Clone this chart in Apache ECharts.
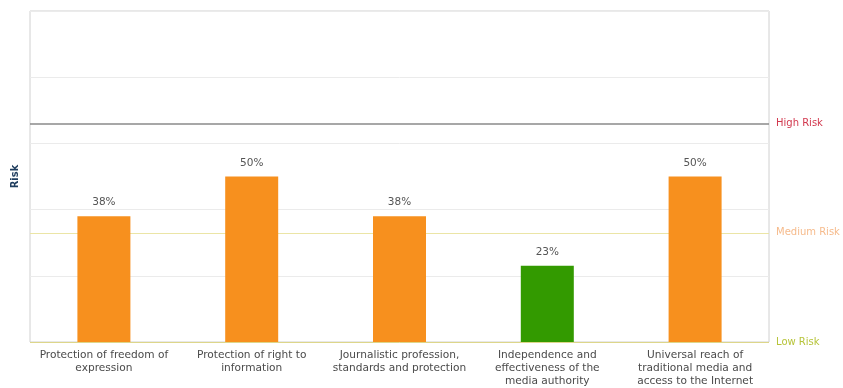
<!DOCTYPE html>
<html>
<head>
<meta charset="utf-8">
<style>
  html, body { margin: 0; padding: 0; background: #ffffff; }
  #chart { width: 843px; height: 388px; }
</style>
<script src="https://cdn.jsdelivr.net/npm/echarts@6/dist/echarts.min.js"></script>
</head>
<body>
<div id="chart"></div>
<script>
// Indicator areas (line breaks as shown under each bar)
const categories = [
  'Protection of freedom of\nexpression',
  'Protection of right to\ninformation',
  'Journalistic profession,\nstandards and protection',
  'Independence and\neffectiveness of the\nmedia authority',
  'Universal reach of\ntraditional media and\naccess to the Internet'
];
// Risk score per area, in percent
const riskValues = [38, 50, 38, 23, 50];
// Risk band of each area: decides the bar colour
const riskBands = ['medium', 'medium', 'medium', 'low', 'medium'];
// Band thresholds drawn as reference lines
const thresholdNames = ['Low Risk', 'Medium Risk', 'High Risk'];
const thresholdValues = [0, 33, 66];

const bandColors = { low: '#339a00', medium: '#f7901e', high: '#d0283c' };
const thresholdLineColors = ['#ddd68a', '#ebe5a6', '#8a8a8a'];
const thresholdLabelColors = ['#b7c43a', '#f6bb8c', '#d2384e'];

const FONT = '"DejaVu Sans", Verdana, sans-serif';

const chart = echarts.init(document.getElementById('chart'), null, { renderer: 'canvas' });

chart.setOption({
  animation: false,
  backgroundColor: '#ffffff',
  grid: {
    left: 30, right: 74, top: 11, bottom: 45,
    show: true, borderColor: '#d0d0d0', borderWidth: 1
  },
  xAxis: {
    type: 'category',
    data: categories,
    axisLine: { show: false },
    axisTick: { show: false },
    axisLabel: {
      interval: 0,
      color: '#4a4a4a',
      fontFamily: FONT,
      fontSize: 10.6,
      lineHeight: 13,
      margin: 7
    }
  },
  yAxis: {
    type: 'value',
    min: 0, max: 100, interval: 20,
    name: 'Risk',
    nameLocation: 'middle',
    nameRotate: 90,
    nameGap: 10,
    nameTextStyle: { color: '#1f3d5e', fontFamily: FONT, fontSize: 10, fontWeight: 'bold' },
    axisLine: { show: false },
    axisTick: { show: false },
    axisLabel: { show: false },
    splitLine: { lineStyle: { color: '#ebebeb', width: 1 } }
  },
  series: [
    {
      // Threshold lines, kept underneath the bars
      type: 'line',
      data: [],
      z: 1,
      silent: true,
      markLine: {
        z: 1,
        silent: true,
        symbol: 'none',
        data: thresholdValues.map((v, i) => ({
          yAxis: v,
          name: thresholdNames[i],
          lineStyle: { color: thresholdLineColors[i], type: 'solid', width: i === 2 ? 1.5 : 1 },
          label: {
            show: true,
            position: 'end',
            formatter: thresholdNames[i],
            color: thresholdLabelColors[i],
            fontFamily: FONT,
            fontSize: 10,
            distance: 7
          }
        }))
      }
    },
    {
      type: 'bar',
      z: 3,
      barWidth: 53,
      data: riskValues.map((v, i) => ({
        value: v,
        itemStyle: { color: bandColors[riskBands[i]] }
      })),
      label: {
        show: true,
        position: 'top',
        distance: 8,
        formatter: '{c}%',
        color: '#555555',
        fontFamily: FONT,
        fontSize: 10.5
      }
    }
  ]
});
</script>
</body>
</html>
